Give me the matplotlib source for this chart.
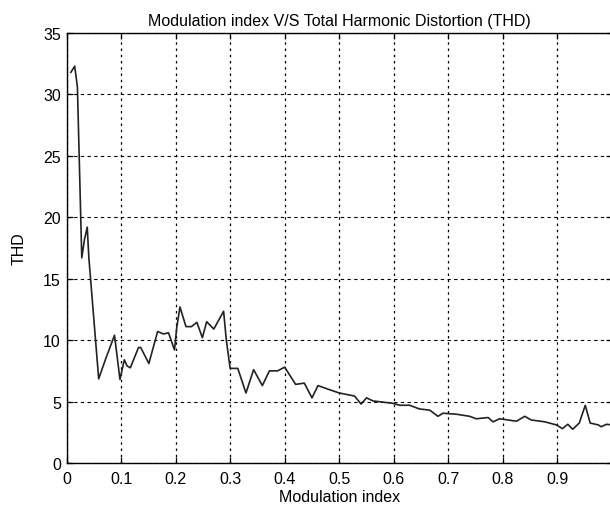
import matplotlib
matplotlib.use("Agg")
import matplotlib.pyplot as plt

plt.rcParams['font.family'] = ['Liberation Sans', 'DejaVu Sans']

# Data
mod_index = [0.008, 0.015, 0.020, 0.028, 0.033, 0.038, 0.041, 0.059, 0.072, 0.088,
             0.098, 0.106, 0.111, 0.117, 0.132, 0.136, 0.151, 0.167, 0.178, 0.187,
             0.198, 0.202, 0.208, 0.219, 0.229, 0.239, 0.249, 0.257, 0.270, 0.288,
             0.293, 0.300, 0.314, 0.329, 0.343, 0.359, 0.372, 0.387, 0.400, 0.420,
             0.436, 0.450, 0.461, 0.480, 0.500, 0.528, 0.540, 0.550, 0.562, 0.598,
             0.611, 0.629, 0.647, 0.666, 0.681, 0.690, 0.715, 0.739, 0.751, 0.773,
             0.782, 0.794, 0.825, 0.840, 0.852, 0.877, 0.898, 0.909, 0.919, 0.928,
             0.940, 0.951, 0.960, 0.975, 0.980, 0.990, 1.000]
thd = [31.8, 32.3, 30.6, 16.7, 18.2, 19.2, 16.7, 6.85, 8.5, 10.4,
       6.8, 8.4, 7.9, 7.75, 9.4, 9.4, 8.1, 10.7, 10.5, 10.6,
       9.2, 11.0, 12.7, 11.1, 11.1, 11.45, 10.2, 11.5, 10.9, 12.35,
       10.0, 7.7, 7.7, 5.7, 7.6, 6.3, 7.5, 7.5, 7.8, 6.4,
       6.5, 5.3, 6.3, 6.0, 5.7, 5.45, 4.8, 5.3, 5.05, 4.86,
       4.7, 4.7, 4.4, 4.3, 3.8, 4.05, 3.97, 3.8, 3.6, 3.7,
       3.35, 3.6, 3.4, 3.8, 3.5, 3.35, 3.1, 2.8, 3.15, 2.75,
       3.25, 4.7, 3.25, 3.1, 2.95, 3.15, 3.1]

x_ticks = [0, 0.1, 0.2, 0.3, 0.4, 0.5, 0.6, 0.7, 0.8, 0.9]
x_tick_labels = ['0', '0.1', '0.2', '0.3', '0.4', '0.5', '0.6', '0.7', '0.8', '0.9']
y_ticks = [0, 5, 10, 15, 20, 25, 30, 35]

W, H = 610, 510
fig = plt.figure(figsize=(W / 100, H / 100), dpi=100)
ax = fig.add_axes([66.5 / W, (H - 464) / H, 545.5 / W, (464 - 34) / H])

ax.plot(mod_index, thd, color='#222222', linewidth=1.2, zorder=3)

ax.set_xlim(0, 1)
ax.set_ylim(0, 35)
ax.set_xticks(x_ticks)
ax.set_xticklabels(x_tick_labels)
ax.set_yticks(y_ticks)

ax.tick_params(direction='in', length=4.5, width=0.9, top=True, right=True,
               labelsize=11.5, colors='black', pad=4)
ax.tick_params(axis='x', pad=6)

ax.grid(axis='y', color='black', linestyle=(0, (3, 3)), linewidth=0.8)
ax.grid(axis='x', color='black', linestyle=(0, (2, 3)), linewidth=0.9)

for s in ax.spines.values():
    s.set_linewidth(1.0)
    s.set_color('black')

ax.set_title('Modulation index V/S Total Harmonic Distortion (THD)', fontsize=11.5, pad=6)
ax.set_xlabel('Modulation index', fontsize=11.5, labelpad=2)
ax.set_ylabel('THD', fontsize=11.5, labelpad=12)

fig.savefig('out.png', dpi=100)
